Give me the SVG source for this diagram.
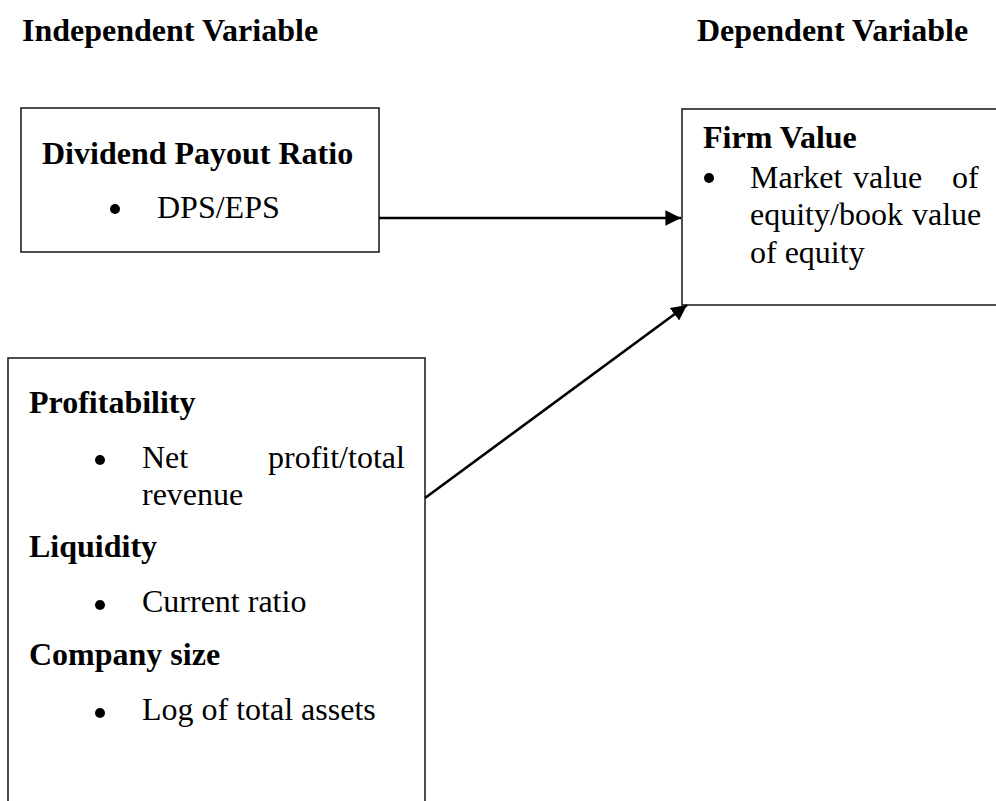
<svg xmlns="http://www.w3.org/2000/svg" width="996" height="801" viewBox="0 0 996 801">
  <style>
    text { font-family: "Liberation Serif", "Times New Roman", serif; font-size: 32px; fill: #000; }
    .b { font-weight: bold; }
    .box { fill: #fff; stroke: #222; stroke-width: 1.6; }
    .edge { stroke: #000; stroke-width: 2.6; fill: none; }
  </style>
  <defs>
    <marker id="arrow" viewBox="0 0 10 10" refX="10" refY="5" markerWidth="6" markerHeight="6" markerUnits="strokeWidth" orient="auto">
      <path d="M0,0 L10,5 L0,10 z" fill="#000"/>
    </marker>
  </defs>

  <rect width="996" height="801" fill="#fff"/>

  <g id="headings">
    <text class="b" x="22" y="41">Independent Variable</text>
    <text class="b" x="697" y="41">Dependent Variable</text>
  </g>

  <g id="node-dividend">
    <rect class="box" x="21" y="108" width="358" height="144"/>
    <text class="b" x="42" y="164">Dividend Payout Ratio</text>
    <circle cx="115" cy="209" r="5"/>
    <text x="157" y="218">DPS/EPS</text>
  </g>

  <g id="node-controls">
    <rect class="box" x="8" y="358" width="417" height="470"/>
    <text class="b" x="29" y="413">Profitability</text>
    <circle cx="100" cy="460" r="5"/>
    <text x="142" y="468">Net</text>
    <text x="268" y="468">profit/total</text>
    <text x="142" y="505">revenue</text>
    <text class="b" x="29" y="557">Liquidity</text>
    <circle cx="100" cy="605" r="5"/>
    <text x="142" y="612">Current ratio</text>
    <text class="b" x="29" y="665">Company size</text>
    <circle cx="100" cy="713" r="5"/>
    <text x="142" y="720">Log of total assets</text>
  </g>

  <g id="node-firm-value">
    <rect class="box" x="682" y="109" width="330" height="196"/>
    <text class="b" x="703" y="148">Firm Value</text>
    <circle cx="709" cy="178" r="5"/>
    <text x="750" y="188">Market</text>
    <text x="853" y="188">value</text>
    <text x="952" y="188">of</text>
    <text x="750" y="225">equity/book</text>
    <text x="912" y="225">value</text>
    <text x="750" y="263">of equity</text>
  </g>

  <g id="connectors">
    <line class="edge" x1="379" y1="218" x2="681" y2="218" marker-end="url(#arrow)"/>
    <line class="edge" x1="425" y1="498" x2="687" y2="305" marker-end="url(#arrow)"/>
  </g>
</svg>
